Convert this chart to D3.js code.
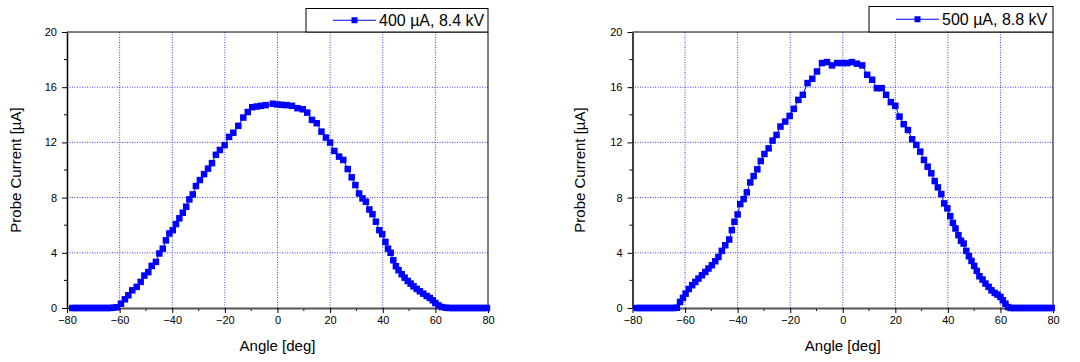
<!DOCTYPE html>
<html><head><meta charset="utf-8">
<script src="https://cdn.jsdelivr.net/npm/d3@7"></script>
<style>body{margin:0;background:#fff}svg{display:block}text{font-family:Arial,"Liberation Sans",sans-serif}</style>
</head><body>
<svg id="c" width="1080" height="362"></svg>
<script>
const xTicks = [-80,-60,-40,-20,0,20,40,60,80];
const yTicks = [0,4,8,12,16,20];
const xTitle = "Angle [deg]";
const yTitle = "Probe Current [µA]";

const label400 = "400 µA, 8.4 kV";
const angle400 = [-78,-76.7,-75.4,-74.1,-72.8,-71.5,-70.2,-68.9,-67.6,-66.3,-65,-63.7,-62.4,-61.1,
 -59.5,-58,-56.7,-55.2,-53.5,-52,-50.6,-49.1,-47.8,-46.2,-44.9,-43.6,-42.4,-41.1,-39.8,-38.6,-37.3,-36,-34.7,-33.5,-32.2,-31,
 -29.5,-27.9,-26.4,-24.9,-23.4,-21.9,-20.1,-18.4,-16.8,-14.9,-13,-11.3,-9.6,-7.9,-6.3,-4.5,-1.8,0,1.6,3.5,5.5,7.6,9.6,11.3,
 13.1,14.9,16.7,18.4,20,21.6,23.4,25,26.7,28.2,29.6,31,32.3,33.6,34.9,36.1,37.4,38.7,39.8,41,42,43,44,45,46,47.2,48.3,49.5,
 50.6,51.7,52.9,54.1,55.4,56.7,57.9,59,60,61.2,62.5,64,65.3,66.6,67.9,69.2,70.5,71.8,73.1,74.4,75.7,77,78.3,79.6];
const current400 = [0,0,0,0,0,0,0,0,0,0,0,0,0.02,0.05,
 0.31,0.63,0.92,1.28,1.53,1.89,2.35,2.6,3.05,3.34,3.95,4.3,4.9,5.4,5.64,6.08,6.5,6.9,7.34,7.87,8.23,8.84,
 9.27,9.7,10.1,10.5,11.1,11.45,11.8,12.4,12.7,13.2,13.8,14.2,14.55,14.6,14.65,14.7,14.8,14.75,14.72,14.7,14.65,14.48,14.4,14.16,
 13.63,13.39,12.78,12.35,11.99,11.38,10.97,10.73,10.07,9.47,8.91,8.3,7.94,7.7,7.14,6.8,6.25,5.64,5.35,4.79,4.3,4.0,3.46,3.03,2.74,2.45,2.2,1.96,
 1.77,1.57,1.38,1.21,1.04,0.87,0.73,0.56,0.36,0.19,0.07,0.02,0,0,0,0,0,0,0,0,0,0,0,0];

const label500 = "500 µA, 8.8 kV";
const angle500 = [-78.4,-77.1,-75.8,-74.5,-73.2,-71.9,-70.6,-69.3,-68,-66.7,-65.4,-64.1,-63.1,
 -61.9,-60.8,-59.8,-58.6,-57.3,-56.1,-54.9,-53.6,-52.3,-51.1,-49.8,-48.5,-47.3,-46,-44.7,-43.2,-42.2,-41.2,-40,-39,-37.7,-36.5,
 -35.2,-33.9,-32.5,-31.2,-29.8,-28.2,-26.7,-25.2,-23.7,-21.9,-20.2,-18.6,-16.9,-15.2,-13.4,-11.6,-9.8,-7.9,-6,-4.1,-2.1,0,1.7,3.5,
 5.4,7.4,9.3,11.2,13,14.8,16.5,18.3,20,21.6,23.2,24.8,26.4,28,29.5,30.9,32.3,33.7,35,36.2,37.5,38.6,39.8,40.9,41.9,42.9,44,45,46,
 47,48,49,50,51,52,53.2,54.3,55.5,56.6,57.8,58.9,60,60.9,61.9,62.9,63.9,65.2,66.5,67.8,69.1,70.4,71.7,73,74.3,75.6,76.9,78.2,79.5];
const current500 = [0,0,0,0,0,0,0,0,0,0,0,0,0.02,
 0.44,0.73,1.04,1.38,1.65,1.89,2.13,2.37,2.61,2.86,3.1,3.39,3.7,4.14,4.55,4.96,5.64,6.25,6.78,7.53,7.89,8.38,
 9.1,9.56,10.05,10.65,11.16,11.57,12.13,12.54,13.15,13.51,13.92,14.43,15.08,15.45,16.3,16.61,17.14,17.75,17.82,17.58,17.75,17.75,17.75,17.82,
 17.7,17.58,16.9,16.54,15.93,15.93,15.45,14.92,14.65,13.87,13.32,12.9,12.23,11.82,11.33,10.73,10.24,9.76,9.2,8.74,8.26,7.58,7.22,6.66,6.17,5.76,5.28,4.87,4.67,
 4.14,3.75,3.41,3.05,2.69,2.3,2.06,1.77,1.53,1.28,1.09,0.97,0.8,0.56,0.31,0.07,0,0,0,0,0,0,0,0,0,0,0,0,0];

const svg = d3.select("#c");
const BLUE = "#0000ff";

function drawChart(left, right, top, bottom, angles, values, label, legBox, yTitleX) {
  const g = svg.append("g");
  const x = d3.scaleLinear().domain([-80, 80]).range([left, right]);
  const y = d3.scaleLinear().domain([0, 20]).range([bottom, top]);

  // grid
  g.selectAll(".gx").data(xTicks.filter(t => t > -80 && t < 80)).enter().append("line")
    .attr("x1", d => x(d)).attr("x2", d => x(d)).attr("y1", top).attr("y2", bottom)
    .attr("stroke", "#3a3aff").attr("stroke-width", 1).attr("stroke-dasharray", "1,1.5");
  g.selectAll(".gy").data(yTicks.filter(t => t > 0 && t < 20)).enter().append("line")
    .attr("y1", d => y(d)).attr("y2", d => y(d)).attr("x1", left).attr("x2", right)
    .attr("stroke", "#3a3aff").attr("stroke-width", 1).attr("stroke-dasharray", "1,1.5");

  // frame top/right
  g.append("line").attr("x1", left).attr("x2", right).attr("y1", top).attr("y2", top).attr("stroke", "#000").attr("stroke-width", 1);
  g.append("line").attr("x1", right).attr("x2", right).attr("y1", top).attr("y2", bottom).attr("stroke", "#000").attr("stroke-width", 1);

  // minor ticks
  const xMinor = d3.range(-70, 80, 20);
  const yMinor = d3.range(2, 20, 4);
  g.selectAll(".mx").data(xMinor).enter().append("line")
    .attr("x1", d => x(d)).attr("x2", d => x(d)).attr("y1", bottom).attr("y2", bottom + 3)
    .attr("stroke", "#000");
  g.selectAll(".my").data(yMinor).enter().append("line")
    .attr("y1", d => y(d)).attr("y2", d => y(d)).attr("x1", left).attr("x2", left - 3)
    .attr("stroke", "#000");

  // axes
  const xa = g.append("g").attr("transform", `translate(0,${bottom})`)
    .call(d3.axisBottom(x).tickValues(xTicks).tickSize(5).tickPadding(3).tickSizeOuter(0));
  xa.select(".domain").attr("stroke", "#555").attr("stroke-width", 2);
  xa.selectAll(".tick line").attr("stroke", "#000");
  xa.selectAll("text").attr("font-size", 11).attr("fill", "#000");

  const ya = g.append("g").attr("transform", `translate(${left},0)`)
    .call(d3.axisLeft(y).tickValues(yTicks).tickSize(5).tickPadding(5).tickSizeOuter(0));
  ya.select(".domain").attr("stroke", "#000").attr("stroke-width", 1.5);
  ya.selectAll(".tick line").attr("stroke", "#000");
  ya.selectAll("text").attr("font-size", 11).attr("fill", "#000");

  // titles
  g.append("text").attr("x", (left + right) / 2).attr("y", bottom + 43)
    .attr("text-anchor", "middle").attr("font-size", 15).text(xTitle);
  g.append("text").attr("transform", `translate(${yTitleX},${(top + bottom) / 2}) rotate(-90)`)
    .attr("text-anchor", "middle").attr("dy", "0.35em").attr("font-size", 15).text(yTitle);

  // series line
  const line = d3.line().x((d, i) => x(angles[i])).y((d) => y(d));
  g.append("path").datum(values).attr("d", line).attr("fill", "none")
    .attr("stroke", BLUE).attr("stroke-width", 1);
  const s = 6.5;
  g.selectAll(".pt").data(values).enter().append("rect")
    .attr("x", (d, i) => x(angles[i]) - s / 2).attr("y", d => y(d) - s / 2)
    .attr("width", s).attr("height", s).attr("fill", BLUE);

  // legend
  const [lx0, ly0, lx1] = legBox;
  const lg = g.append("g");
  lg.append("rect").attr("x", lx0).attr("y", ly0).attr("width", lx1 - lx0).attr("height", top - ly0)
    .attr("fill", "#fff").attr("stroke", "#000").attr("stroke-width", 1);
  const cy = (ly0 + top) / 2;
  lg.append("line").attr("x1", lx0 + 27).attr("x2", lx0 + 70).attr("y1", cy).attr("y2", cy)
    .attr("stroke", BLUE).attr("stroke-width", 1);
  lg.append("rect").attr("x", lx0 + 48.5 - 3).attr("y", cy - 3).attr("width", 6).attr("height", 6).attr("fill", BLUE);
  lg.append("text").attr("x", lx0 + 73).attr("y", cy).attr("dy", "0.36em").attr("font-size", 16).text(label);
}

drawChart(67, 488, 32, 308, angle400, current400, label400, [306, 8.5, 488], 16);
drawChart(632.5, 1053, 32, 308, angle500, current500, label500, [869, 6.5, 1053], 580);
</script>
</body></html>
